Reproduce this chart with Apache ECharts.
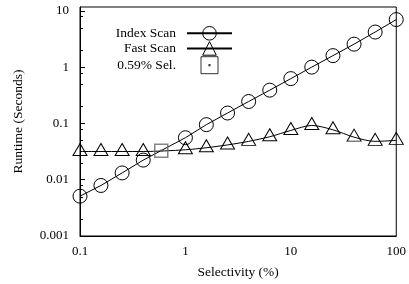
<!DOCTYPE html>
<html>
<head>
<meta charset="utf-8">
<script src="https://cdn.jsdelivr.net/npm/echarts@6/dist/echarts.min.js"></script>
<style>
  html, body { margin: 0; padding: 0; background: #fff; }
  #chart { width: 409px; height: 284px; }
</style>
</head>
<body>
<div id="chart"></div>
<script>
// selectivity (%) for each measurement
const selectivity = [0.1, 0.158, 0.251, 0.398, 1, 1.58, 2.51, 3.98, 6.31, 10, 15.8, 25.1, 39.8, 63.1, 100]
// runtime in seconds
const indexScan = [0.0051, 0.0079, 0.0132, 0.0223, 0.0557, 0.095, 0.153, 0.245, 0.39, 0.625, 1.0, 1.6, 2.56, 4.2, 7.0]
const fastScan = [0.0317, 0.0317, 0.0317, 0.0317, 0.034, 0.037, 0.0415, 0.048, 0.058, 0.075, 0.092, 0.077, 0.057, 0.048, 0.05]
const selPoint = [[0.59, 0.0327]]
// minor ticks on the runtime axis
const yMinorTicks = [0.002, 0.005, 0.008, 0.02, 0.05, 0.08, 0.2, 0.5, 0.8, 2, 5, 8]

const font = 'Liberation Serif'
// open square with a dot in the middle (gnuplot style)
const dotSquare = 'path://M0,0L10,0L10,10L0,10Z M4.6,4.6L5.4,4.6L5.4,5.4L4.6,5.4Z'

const chart = echarts.init(document.getElementById('chart'))

const option = {
  backgroundColor: '#fff',
  animation: false,
  grid: {
    left: 80,
    right: 10,
    top: 7,
    bottom: 45,
    show: true,
    borderColor: '#000',
    borderWidth: 1,
  },
  legend: {
    orient: 'vertical',
    right: 176,
    top: 26,
    align: 'right',
    itemWidth: 45,
    itemHeight: 17,
    itemGap: 0.5,
    padding: 0,
    selectedMode: false,
    itemStyle: { borderColor: '#000', borderWidth: 1 },
    textStyle: {
      fontFamily: font,
      fontSize: 13.5,
      color: '#000',
      padding: [0, 6, 0, 0],
    },
    data: ['Index Scan', 'Fast Scan', '0.59% Sel.'],
  },
  xAxis: {
    type: 'log',
    logBase: 10,
    min: 0.1,
    max: 100,
    name: 'Selectivity (%)',
    nameLocation: 'middle',
    nameGap: 29,
    nameTextStyle: { fontFamily: font, fontSize: 13.5, color: '#000' },
    axisLine: { lineStyle: { color: '#000' } },
    axisTick: { show: false },
    splitLine: { show: false },
    axisLabel: { fontFamily: font, fontSize: 13, color: '#000', margin: 9 },
  },
  yAxis: {
    type: 'log',
    logBase: 10,
    min: 0.001,
    max: 11.7,
    name: 'Runtime (Seconds)',
    nameLocation: 'middle',
    nameGap: 55,
    nameTextStyle: { fontFamily: font, fontSize: 13.5, color: '#000' },
    axisLine: { lineStyle: { color: '#000' } },
    axisTick: { inside: true, length: 5, lineStyle: { color: '#000' } },
    splitLine: { show: false },
    axisLabel: {
      fontFamily: font,
      fontSize: 13,
      color: '#000',
      margin: 11,
      showMaxLabel: false,
    },
  },
  series: [
    {
      name: 'Index Scan',
      type: 'line',
      data: selectivity.map((x, i) => [x, indexScan[i]]),
      symbol: 'circle',
      symbolSize: 14,
      itemStyle: { color: 'rgba(0,0,0,0)', borderColor: '#000', borderWidth: 1 },
      lineStyle: { color: '#000', width: 1 },
      emphasis: { disabled: true },
      z: 3,
    },
    {
      name: 'Fast Scan',
      type: 'line',
      smooth: 0.3,
      data: selectivity.map((x, i) => [x, fastScan[i]]),
      symbol: 'triangle',
      symbolSize: [14, 12],
      symbolOffset: [0, -2],
      itemStyle: { color: 'rgba(0,0,0,0)', borderColor: '#000', borderWidth: 1 },
      lineStyle: { color: '#000', width: 1 },
      emphasis: { disabled: true },
      z: 3,
    },
    {
      name: '0.59% Sel.',
      type: 'scatter',
      data: selPoint,
      symbol: dotSquare,
      symbolSize: 13,
      itemStyle: { color: 'rgba(0,0,0,0)', borderColor: '#666', borderWidth: 1.5 },
      emphasis: { disabled: true },
      z: 4,
    },
    {
      // minor ticks drawn on the left axis
      type: 'custom',
      silent: true,
      data: yMinorTicks.map(v => [0.1, v]),
      renderItem: (params, api) => {
        const p = api.coord([api.value(0), api.value(1)])
        const y = Math.round(p[1]) + 0.5
        return {
          type: 'line',
          shape: { x1: p[0], y1: y, x2: p[0] + 3, y2: y },
          style: { stroke: '#000', lineWidth: 1 },
        }
      },
      z: 5,
    },
  ],
}

chart.setOption(option)
</script>
</body>
</html>
